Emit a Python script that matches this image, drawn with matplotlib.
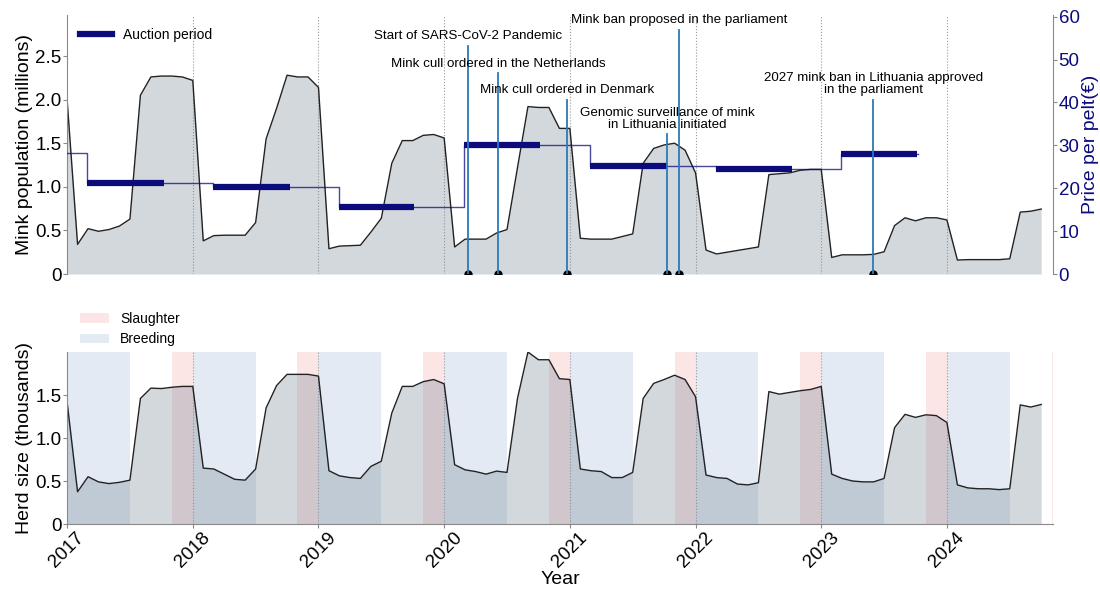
import numpy as np
import pandas as pd
import matplotlib
matplotlib.use("Agg")
import matplotlib.pyplot as plt
from matplotlib.patches import Patch
from matplotlib.lines import Line2D

plt.rcParams['font.family'] = ['Liberation Sans', 'DejaVu Sans']

# ---------------- data ----------------
dates = pd.date_range('2017-01-01', '2024-10-01', freq='MS')
t = dates.year + (dates.month - 1) / 12.0

mink_millions = [
    2.00, 0.34, 0.52, 0.49, 0.51, 0.55, 0.63, 2.05, 2.26, 2.27, 2.27, 2.26,
    2.22, 0.38, 0.44, 0.445, 0.445, 0.445, 0.59, 1.55, 1.90, 2.28, 2.26, 2.26,
    2.14, 0.29, 0.32, 0.325, 0.33, 0.48, 0.64, 1.27, 1.53, 1.53, 1.59, 1.60,
    1.56, 0.31, 0.40, 0.40, 0.40, 0.47, 0.51, 1.22, 1.92, 1.91, 1.91, 1.67,
    1.67, 0.41, 0.40, 0.40, 0.40, 0.43, 0.46, 1.27, 1.44, 1.48, 1.50, 1.42,
    1.16, 0.275, 0.23, 0.25, 0.27, 0.29, 0.31, 1.14, 1.15, 1.16, 1.19, 1.20,
    1.20, 0.19, 0.22, 0.22, 0.22, 0.225, 0.255, 0.555, 0.645, 0.61, 0.645, 0.645,
    0.62, 0.16, 0.165, 0.165, 0.165, 0.165, 0.175, 0.71, 0.72, 0.745,
]

herd_thousands = [
    1.42, 0.375, 0.55, 0.49, 0.47, 0.485, 0.51, 1.46, 1.58, 1.575, 1.59, 1.60,
    1.60, 0.65, 0.64, 0.58, 0.52, 0.51, 0.64, 1.35, 1.61, 1.74, 1.74, 1.74,
    1.72, 0.62, 0.56, 0.54, 0.53, 0.67, 0.73, 1.29, 1.60, 1.60, 1.655, 1.68,
    1.63, 0.69, 0.63, 0.61, 0.58, 0.615, 0.60, 1.46, 2.00, 1.91, 1.91, 1.69,
    1.68, 0.64, 0.62, 0.61, 0.54, 0.54, 0.60, 1.46, 1.635, 1.68, 1.73, 1.68,
    1.48, 0.57, 0.54, 0.53, 0.465, 0.455, 0.48, 1.54, 1.51, 1.53, 1.55, 1.565,
    1.60, 0.58, 0.53, 0.50, 0.49, 0.49, 0.53, 1.12, 1.275, 1.24, 1.27, 1.26,
    1.18, 0.455, 0.42, 0.41, 0.41, 0.40, 0.41, 1.385, 1.36, 1.39,
]

# price per pelt (EUR): step series, value holds from each date on
price_dates = [2017.0, 2017.16, 2018.16, 2019.16, 2020.16, 2021.16, 2022.16, 2023.16]
price_values = [28.2, 21.3, 20.2, 15.7, 30.0, 25.1, 24.5, 27.9]
price_end = 2023.77

auction_start = [2017.16, 2018.16, 2019.16, 2020.16, 2021.16, 2022.16, 2023.16]
auction_end = [2017.77, 2018.77, 2019.76, 2020.76, 2021.77, 2022.77, 2023.76]
auction_price = [21.3, 20.2, 15.7, 30.0, 25.1, 24.5, 27.9]

event_dates = [2020.19, 2020.43, 2020.975, 2021.775, 2021.87, 2023.415]
event_heights = [2.61, 2.30, 2.00, 1.60, 2.80, 2.00]
event_labels = [
    "Start of SARS-CoV-2 Pandemic",
    "Mink cull ordered in the Netherlands",
    "Mink cull ordered in Denmark",
    "Genomic surveillance of mink\nin Lithuania initiated",
    "Mink ban proposed in the parliament",
    "2027 mink ban in Lithuania approved\nin the parliament",
]

years = [2017, 2018, 2019, 2020, 2021, 2022, 2023, 2024]
breeding_start = [2017.0, 2018.0, 2019.0, 2020.0, 2021.0, 2022.0, 2023.0, 2024.0]
breeding_end = [2017.5, 2018.5, 2019.5, 2020.5, 2021.5, 2022.5, 2023.5, 2024.5]
slaughter_start = [2017.833, 2018.833, 2019.833, 2020.833, 2021.833, 2022.833, 2023.833, 2024.833]
slaughter_end = [2018.0, 2019.0, 2020.0, 2021.0, 2022.0, 2023.0, 2024.0, 2025.0]

# ---------------- styles ----------------
FILL = 'slategray'
NAVY = '#0b0b7c'
EVENT = '#2a7ab8'
SPINE = '#8a8a8a'
XMIN, XMAX = 2017.0, 2024.845

fig = plt.figure(figsize=(11, 5.94), dpi=100)
ax1 = fig.add_axes([0.061, 0.5387, 0.8964, 0.436])
ax2 = fig.add_axes([0.061, 0.1178, 0.8964, 0.2896])

# ---------------- top panel ----------------
ax1.fill_between(t, mink_millions, 0, color=FILL, alpha=0.3, lw=0, zorder=1)
ax1.plot(t, mink_millions, color='#222222', lw=1.0, zorder=2)
for y in years[1:]:
    ax1.axvline(y, color='#9a9a9a', ls=':', lw=0.8, zorder=0)
ax1.set_xlim(XMIN, XMAX)
ax1.set_ylim(0, 2.97)
ax1.set_yticks([0, 0.5, 1.0, 1.5, 2.0, 2.5])
ax1.set_yticklabels(['0', '0.5', '1.0', '1.5', '2.0', '2.5'])
ax1.set_xticks([])
for s in ['top', 'bottom', 'right']:
    ax1.spines[s].set_visible(False)
ax1.spines['left'].set_color(SPINE)
ax1.tick_params(axis='y', labelsize=13.5, length=3, pad=1, color=SPINE)
ax1.set_ylabel('Mink population (millions)', fontsize=14, labelpad=2)

axp = ax1.twinx()
px = price_dates + [price_end]
py = price_values + [price_values[-1]]
axp.step(px, py, where='post', color=NAVY, lw=1.0, alpha=0.75, zorder=3)
for s0, s1, p in zip(auction_start, auction_end, auction_price):
    axp.plot([s0, s1], [p, p], color=NAVY, lw=4.5, solid_capstyle='butt', zorder=4)
axp.set_ylim(0, 60.4)
axp.set_yticks([0, 10, 20, 30, 40, 50, 60])
axp.set_xlim(XMIN, XMAX)
for s in ['top', 'bottom', 'left']:
    axp.spines[s].set_visible(False)
axp.spines['right'].set_color(SPINE)
axp.tick_params(axis='y', labelsize=13.5, length=3, pad=1, color=SPINE, labelcolor=NAVY)
axp.set_ylabel('Price per pelt(€)', fontsize=14, color=NAVY, labelpad=2)

# events (drawn in mink units on top of price layer)
for d, h, lab in zip(event_dates, event_heights, event_labels):
    axp.plot([d, d], [0, h], color=EVENT, lw=1.3, transform=ax1.transData, zorder=5)
    axp.text(d, h + 0.045, lab, ha='center', va='bottom', fontsize=9.6,
             linespacing=1.0, transform=ax1.transData, zorder=6)
# event base markers, clipped at the axis bottom
ax1.plot(event_dates, [0] * len(event_dates), ls='none', marker='o', ms=5,
         color='black', clip_on=True, zorder=6)
axp.set_ylim(0, 60.4)

ax1.legend(handles=[Line2D([0], [0], color=NAVY, lw=4.5)], labels=['Auction period'],
           loc='upper left', frameon=False, fontsize=10, handlelength=2.3)

# ---------------- bottom panel ----------------
for a, b in zip(breeding_start, breeding_end):
    ax2.axvspan(a, b, color='lightsteelblue', alpha=0.35, lw=0, zorder=0)
for a, b in zip(slaughter_start, slaughter_end):
    ax2.axvspan(a, b, color='lightcoral', alpha=0.2, lw=0, zorder=0)
for y in years[1:]:
    ax2.axvline(y, color='#9a9a9a', ls=':', lw=0.8, zorder=0.5)
ax2.fill_between(t, herd_thousands, 0, color=FILL, alpha=0.3, lw=0, zorder=1)
ax2.plot(t, herd_thousands, color='#222222', lw=1.0, zorder=2)
ax2.set_xlim(XMIN, XMAX)
ax2.set_ylim(0, 2.0)
ax2.set_yticks([0, 0.5, 1.0, 1.5])
ax2.set_yticklabels(['0', '0.5', '1.0', '1.5'])
ax2.set_xticks(years)
ax2.set_xticklabels([str(y) for y in years], rotation=45, ha='center')
for s in ['top', 'right']:
    ax2.spines[s].set_visible(False)
ax2.spines['left'].set_color(SPINE)
ax2.spines['bottom'].set_color(SPINE)
ax2.tick_params(axis='both', labelsize=13.5, length=3, pad=1, color=SPINE)
ax2.set_ylabel('Herd size (thousands)', fontsize=14, labelpad=2)
ax2.set_xlabel('Year', fontsize=14, labelpad=0)

ax2.legend(handles=[Patch(facecolor='lightcoral', alpha=0.2, lw=0),
                    Patch(facecolor='lightsteelblue', alpha=0.35, lw=0)],
           labels=['Slaughter', 'Breeding'], loc='lower left',
           bbox_to_anchor=(0.007, 1.0), borderaxespad=0, frameon=False,
           fontsize=10, handlelength=2.1)

fig.savefig('out.png', dpi=100)
